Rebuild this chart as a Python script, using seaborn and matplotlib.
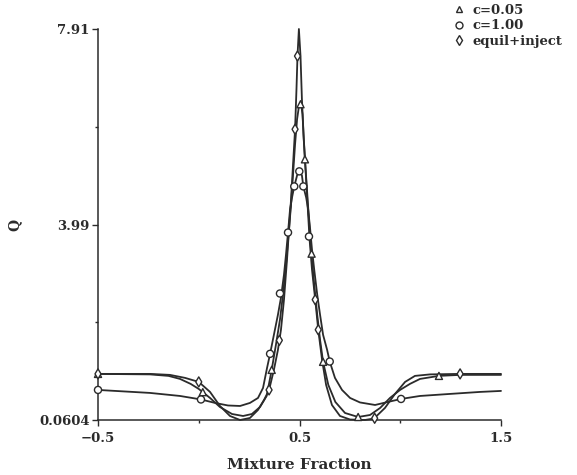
import matplotlib
matplotlib.use("Agg")
import matplotlib.pyplot as plt
from matplotlib.lines import Line2D
import seaborn as sns
import pandas as pd

# ---------------- data ----------------
series_names = ["c=0.05", "c=1.00", "equil+inject"]

# c=0.05 (triangles)
tri_x = [-0.5, -0.242, -0.150, -0.093, -0.040, 0.0, 0.056, 0.105, 0.165, 0.220, 0.264, 0.304,
         0.337, 0.362, 0.383, 0.403, 0.418, 0.433, 0.448, 0.458, 0.468, 0.478, 0.488, 0.498,
         0.507, 0.515, 0.521, 0.527, 0.537, 0.547, 0.557, 0.573, 0.588, 0.602, 0.617, 0.643,
         0.678, 0.726, 0.791, 0.850, 0.900, 0.949, 0.999, 1.048, 1.098, 1.192, 1.297, 1.5]
tri_q = [0.986, 0.976, 0.946, 0.885, 0.785, 0.684, 0.503, 0.322, 0.181, 0.141, 0.181, 0.322,
         0.543, 1.067, 1.570, 2.073, 2.576, 3.180, 3.885, 4.388, 4.992, 5.596, 6.099, 6.381,
         6.421, 6.199, 5.696, 5.294, 4.690, 4.086, 3.482, 2.778, 2.174, 1.671, 1.228, 0.765,
         0.422, 0.201, 0.121, 0.161, 0.302, 0.503, 0.664, 0.785, 0.885, 0.946, 0.966, 0.966]

# c=1.00 (circles)
cir_x = [-0.5, -0.242, -0.093, 0.011, 0.081, 0.145, 0.205, 0.254, 0.294, 0.319, 0.339, 0.354,
         0.373, 0.393, 0.408, 0.423, 0.433, 0.443, 0.453, 0.463, 0.474, 0.488, 0.499, 0.512,
         0.519, 0.533, 0.543, 0.553, 0.562, 0.573, 0.588, 0.602, 0.617, 0.637, 0.650, 0.676,
         0.711, 0.751, 0.800, 0.875, 0.939, 1.004, 1.098, 1.247, 1.396, 1.5]
cir_q = [0.664, 0.604, 0.543, 0.473, 0.403, 0.352, 0.342, 0.403, 0.503, 0.704, 1.107, 1.389,
         1.771, 2.174, 2.516, 2.979, 3.382, 3.824, 4.287, 4.529, 4.750, 4.971, 5.052, 4.971,
         4.750, 4.529, 4.287, 3.885, 3.482, 3.080, 2.576, 2.174, 1.771, 1.469, 1.234, 0.906,
         0.664, 0.503, 0.413, 0.362, 0.423, 0.483, 0.543, 0.584, 0.624, 0.644]

# equil+inject (diamonds)
dia_x = [-0.5, -0.242, -0.143, -0.068, 0.0, 0.056, 0.105, 0.155, 0.205, 0.254, 0.294, 0.324,
         0.349, 0.373, 0.393, 0.408, 0.423, 0.438, 0.448, 0.458, 0.468, 0.478, 0.485, 0.490,
         0.497, 0.505, 0.512, 0.520, 0.530, 0.540, 0.550, 0.562, 0.578, 0.593, 0.612, 0.632,
         0.661, 0.701, 0.751, 0.825, 0.870, 0.924, 0.974, 1.024, 1.073, 1.148, 1.297, 1.5]
dia_q = [0.986, 0.986, 0.966, 0.906, 0.825, 0.624, 0.342, 0.141, 0.0604, 0.101, 0.262, 0.463,
         0.664, 1.067, 1.469, 1.872, 2.476, 3.281, 3.885, 4.488, 5.193, 5.897, 6.703, 7.367,
         7.91, 7.367, 6.501, 5.797, 5.092, 4.388, 3.683, 3.080, 2.476, 1.872, 1.268, 0.765,
         0.362, 0.141, 0.070, 0.0604, 0.091, 0.302, 0.584, 0.825, 0.946, 0.976, 0.986, 0.986]

# marker positions
tri_mx = [-0.5, 0.02, 0.362, 0.505, 0.527, 0.560, 0.617, 0.791, 1.192]
tri_mq = [0.986, 0.62, 1.067, 6.40, 5.294, 3.40, 1.228, 0.121, 0.946]
cir_mx = [-0.5, 0.011, 0.354, 0.403, 0.443, 0.474, 0.499, 0.519, 0.547, 0.650, 1.004]
cir_mq = [0.664, 0.473, 1.389, 2.60, 3.824, 4.750, 5.052, 4.750, 3.744, 1.234, 0.483]
dia_mx = [-0.5, 0.0, 0.349, 0.40, 0.478, 0.490, 0.578, 0.593, 0.873, 1.297]
dia_mq = [0.986, 0.825, 0.664, 1.66, 5.897, 7.367, 2.476, 1.872, 0.095, 0.986]

x_ticks = [-0.5, 0.5, 1.5]
x_tick_labels = ["\u22120.5", "0.5", "1.5"]
x_minor = [0.0, 1.0]
y_ticks = [0.0604, 3.985, 7.91]
y_tick_labels = ["0.0604", "3.99", "7.91"]
y_minor = [2.023, 5.948]

# ---------------- plotting ----------------
sns.set_style("ticks")
plt.rcParams["font.family"] = ["DejaVu Serif"]
plt.rcParams["font.weight"] = "bold"

ink = "#2b2b2b"
fig = plt.figure(figsize=(5.77, 4.75), dpi=100)
ax = fig.add_axes([98 / 577, 55 / 475, 403 / 577, 391 / 475])

lines_df = pd.concat([
    pd.DataFrame({"x": tri_x, "Q": tri_q, "s": series_names[0]}),
    pd.DataFrame({"x": cir_x, "Q": cir_q, "s": series_names[1]}),
    pd.DataFrame({"x": dia_x, "Q": dia_q, "s": series_names[2]}),
], ignore_index=True)

for name in series_names:
    sub = lines_df[lines_df["s"] == name]
    sns.lineplot(data=sub, x="x", y="Q", ax=ax, color=ink, lw=1.3, sort=False,
                 estimator=None, legend=False, clip_on=False, zorder=2)

markers = {"c=0.05": "^", "c=1.00": "o", "equil+inject": "d"}
mk_df = pd.concat([
    pd.DataFrame({"x": tri_mx, "Q": tri_mq, "s": series_names[0]}),
    pd.DataFrame({"x": cir_mx, "Q": cir_mq, "s": series_names[1]}),
    pd.DataFrame({"x": dia_mx, "Q": dia_mq, "s": series_names[2]}),
], ignore_index=True)
sns.scatterplot(data=mk_df, x="x", y="Q", style="s", markers=markers, ax=ax,
                s=26, facecolor="white", edgecolor=ink, linewidth=1.0,
                legend=False, clip_on=False, zorder=3)

ax.set_xlim(-0.5, 1.5)
ax.set_ylim(0.0604, 7.91)
ax.set_xticks(x_ticks)
ax.set_xticklabels(x_tick_labels)
ax.set_xticks(x_minor, minor=True)
ax.set_yticks(y_ticks)
ax.set_yticklabels(y_tick_labels)
ax.set_yticks(y_minor, minor=True)
ax.tick_params(axis="both", which="major", direction="out", length=4, width=1.0,
               color=ink, labelsize=9.5, labelcolor=ink, pad=2)
ax.tick_params(axis="x", which="major", pad=5)
ax.tick_params(axis="both", which="minor", direction="out", length=2.5, width=1.0, color=ink)
sns.despine(ax=ax)
for sp in ["left", "bottom"]:
    ax.spines[sp].set_color(ink)
    ax.spines[sp].set_linewidth(1.1)

ax.set_xlabel("Mixture Fraction", fontsize=11, color=ink, labelpad=9, fontweight="bold")
ax.set_ylabel("Q", fontsize=10, color=ink, fontweight="bold")
ax.yaxis.set_label_coords(-0.19, 0.5)

handles = [Line2D([], [], ls="none", marker=markers[n], markersize=5,
                  markerfacecolor="white", markeredgecolor=ink, markeredgewidth=1.0)
           for n in series_names]
leg = fig.legend(handles, series_names, loc="upper left",
                 bbox_to_anchor=(450 / 577, 1 - 1 / 475), frameon=False,
                 prop={"size": 9.5, "weight": "bold"}, handlelength=1.0, handletextpad=0.5,
                 labelspacing=0.2, borderpad=0.2, borderaxespad=0)
for t in leg.get_texts():
    t.set_color(ink)

fig.savefig("out.png", dpi=100, facecolor="white")
